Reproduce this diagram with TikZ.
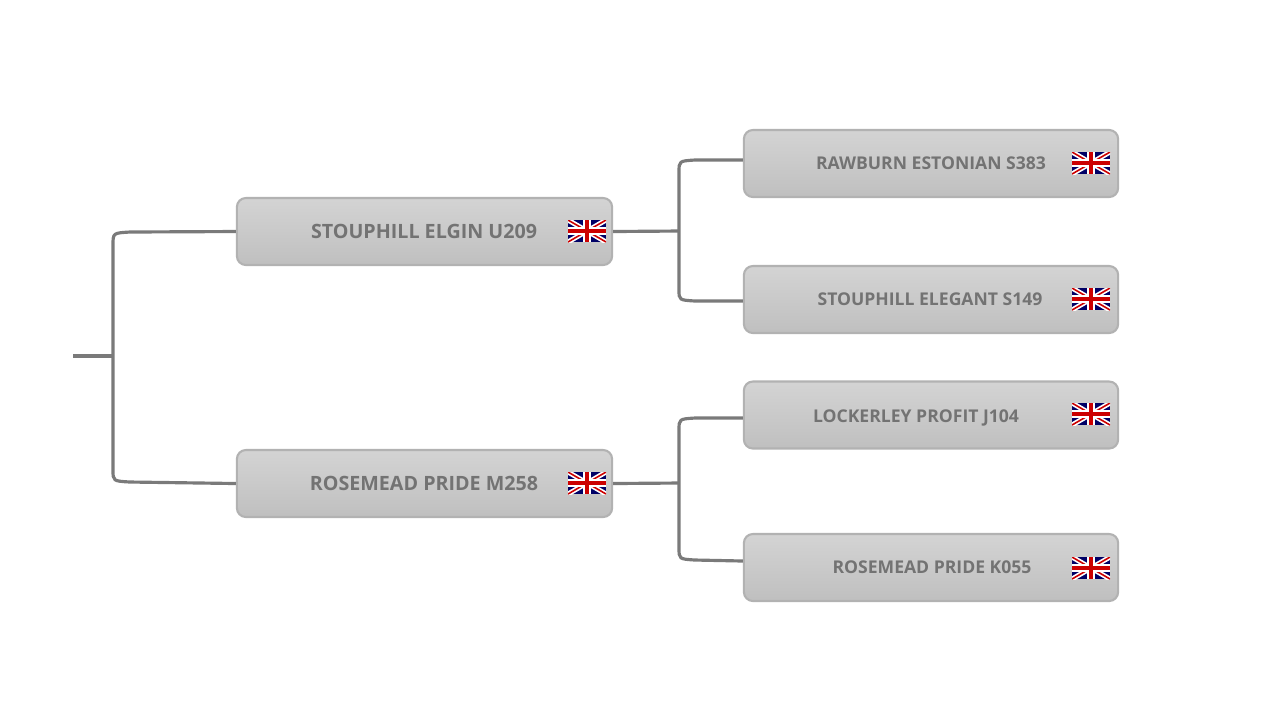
\documentclass[tikz,border=0pt]{standalone}
\usepackage{fontspec}
\setmainfont{Open Sans}
\begin{document}
\begin{tikzpicture}[x=0.01cm,y=-0.01cm,
  box/.style={draw=black!30,line width=0.6pt,rounded corners=0.09cm,top color=black!17,bottom color=black!25,minimum height=0.67cm,inner sep=0pt},
  lbl/.style={text=black!55,font=\bfseries},
  con/.style={draw=black!52,line width=0.9pt},
  flag/.pic={
    \begin{scope}
    \clip (-19,-11) rectangle (19,11);
    \fill[blue!40!black] (-19,-11) rectangle (19,11);
    \draw[white,line width=1.4pt] (-19,-11)--(19,11) (-19,11)--(19,-11);
    \draw[red!80!black,line width=0.45pt] (-19,-11)--(19,11) (-19,11)--(19,-11);
    \draw[white,line width=2.2pt] (-19,0)--(19,0) (0,-11)--(0,11);
    \draw[red!80!black,line width=1.3pt] (-19,0)--(19,0) (0,-11)--(0,11);
    \end{scope}}]
\useasboundingbox (0,0) rectangle (1280,720);
% boxes
\node[box,minimum width=3.75cm] (a) at (424.5,231.5) {};
\node[box,minimum width=3.75cm] (b) at (424.5,483.5) {};
\node[box,minimum width=3.74cm] (c) at (931,163.5) {};
\node[box,minimum width=3.74cm] (d) at (931,299.5) {};
\node[box,minimum width=3.74cm] (e) at (931,415) {};
\node[box,minimum width=3.74cm] (f) at (931,567.5) {};
\node[lbl,font=\bfseries\fontsize{5.6pt}{6pt}\selectfont] (ta) at (424,231) {STOUPHILL ELGIN U209};
\node[lbl,font=\bfseries\fontsize{5.6pt}{6pt}\selectfont] (tb) at (424,483) {ROSEMEAD PRIDE M258};
\node[lbl,font=\bfseries\fontsize{5pt}{6pt}\selectfont] (tc) at (931,163) {RAWBURN ESTONIAN S383};
\node[lbl,font=\bfseries\fontsize{5pt}{6pt}\selectfont] (td) at (930,299) {STOUPHILL ELEGANT S149};
\node[lbl,font=\bfseries\fontsize{5pt}{6pt}\selectfont] (te) at (916,418) {LOCKERLEY PROFIT J104};
\node[lbl,font=\bfseries\fontsize{5pt}{6pt}\selectfont] (tf) at (932,567) {ROSEMEAD PRIDE K055};
\pic at (587,231) {flag};
\pic at (587,483) {flag};
\pic at (1091,163) {flag};
\pic at (1091,299) {flag};
\pic at (1091,414) {flag};
\pic at (1091,568) {flag};
% connectors
\coordinate (r) at (73,356);
\draw[con] (r) -- (113,356);
\draw[con] (a.west) -- (130,232) .. controls (113,233) .. (113,245) -- (113,470) .. controls (113,481) .. (130,482) -- (b.west);
\draw[con] (a.east) -- (679,231);
\draw[con] (c.west|-0,160) -- (695,160) .. controls (679,161) .. (679,172) -- (679,290) .. controls (679,300) .. (695,301) -- (d.west|-0,301);
\draw[con] (b.east) -- (679,483);
\draw[con] (e.west|-0,418) -- (695,418) .. controls (679,419) .. (679,430) -- (679,548) .. controls (679,559) .. (695,560) -- (f.west|-0,561);
\end{tikzpicture}
\end{document}
